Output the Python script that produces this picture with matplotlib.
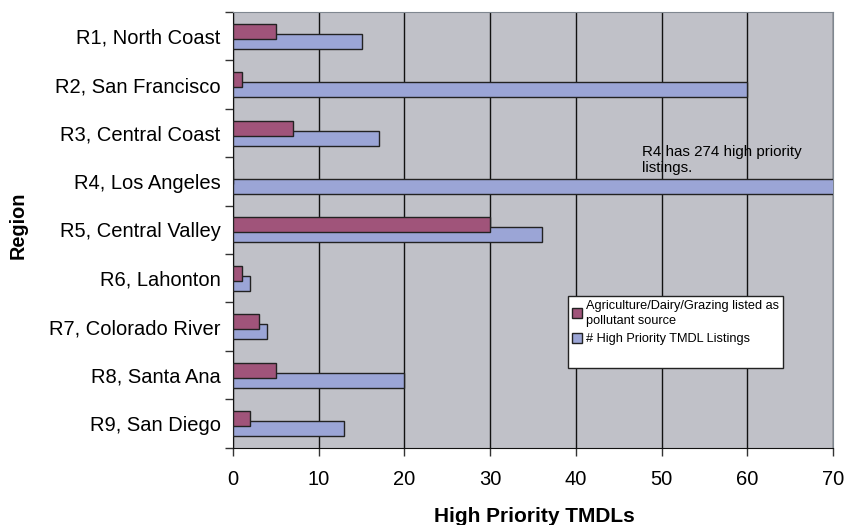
import numpy as np
import matplotlib
matplotlib.use("Agg")
import matplotlib.pyplot as plt
from matplotlib.patches import Patch

regions = ['R1, North Coast', 'R2, San Francisco', 'R3, Central Coast', 'R4, Los Angeles',
           'R5, Central Valley', 'R6, Lahonton', 'R7, Colorado River', 'R8, Santa Ana',
           'R9, San Diego']
ag_source = [5, 1, 7, 0, 30, 1, 3, 5, 2]
high_priority = [15, 60, 17, 274, 36, 2, 4, 20, 13]
xticks = [0, 10, 20, 30, 40, 50, 60, 70]

red = '#A0547A'
blue = '#9BA5D6'

plt.rcParams['font.family'] = ['Liberation Sans', 'DejaVu Sans']

fig = plt.figure(figsize=(8.44, 5.25), dpi=100)
ax = fig.add_axes([0.2761, 0.1473, 0.7109, 0.8297])
ax.set_facecolor('#C0C1C8')

y = np.arange(len(regions))
off = 0.1035
h = 0.31
ax.barh(y + off, high_priority, height=h, color=blue, edgecolor='#222222', linewidth=1, zorder=3)
ax.barh(y - off, ag_source, height=h, color=red, edgecolor='#222222', linewidth=1, zorder=4)

ax.set_xlim(0, 70)
ax.set_ylim(len(regions) - 0.5, -0.5)
ax.set_xticks(xticks)
ax.set_xticklabels([str(t) for t in xticks], fontsize=14.5)
ax.xaxis.grid(True, color='#111111', linewidth=1)
ax.set_axisbelow(True)

# category boundaries get the tick marks, labels sit in the middle
ax.set_yticks(np.arange(-0.5, len(regions), 1.0))
ax.set_yticklabels([])
ax.set_yticks(y, minor=True)
ax.set_yticklabels(regions, minor=True, fontsize=14.5)
ax.tick_params(axis='y', which='minor', length=0, pad=9)
ax.tick_params(axis='y', which='major', length=6, width=1, color='#333333')
ax.tick_params(axis='x', length=6, width=1, color='#333333', pad=10)

for s in ['top', 'right']:
    ax.spines[s].set_color('#7F8790')
for s in ['left', 'bottom']:
    ax.spines[s].set_color('#111111')

# the reference cuts the x label at the bottom edge as well
ax.set_xlabel('High Priority TMDLs', fontsize=15, fontweight='bold')
ax.set_ylabel('Region', fontsize=14.3, fontweight='bold')
ax.xaxis.set_label_coords(0.503, -0.136)
ax.yaxis.set_label_coords(-0.343, 0.511)

ax.text(47.7, 2.25, 'R4 has 274 high priority\nlistings.', fontsize=10.9, va='top', ha='left',
        linespacing=1.15, zorder=5)

handles = [Patch(facecolor=red, edgecolor='#222222'), Patch(facecolor=blue, edgecolor='#222222'),
           Patch(alpha=0)]
leg = ax.legend(handles, ['Agriculture/Dairy/Grazing listed as\npollutant source',
                          '# High Priority TMDL Listings', ' '],
                loc='upper left', bbox_to_anchor=(0.558, 0.348), borderaxespad=0,
                fontsize=9.2, fancybox=False, framealpha=1, edgecolor='#222222',
                handlelength=0.8, handleheight=0.8, handletextpad=0.3,
                labelspacing=0.5, borderpad=0.3)
for t in leg.get_texts():
    t.set_linespacing(1.3)
leg.get_frame().set_linewidth(1)
leg.set_zorder(6)

fig.savefig('out.png', dpi=100)
